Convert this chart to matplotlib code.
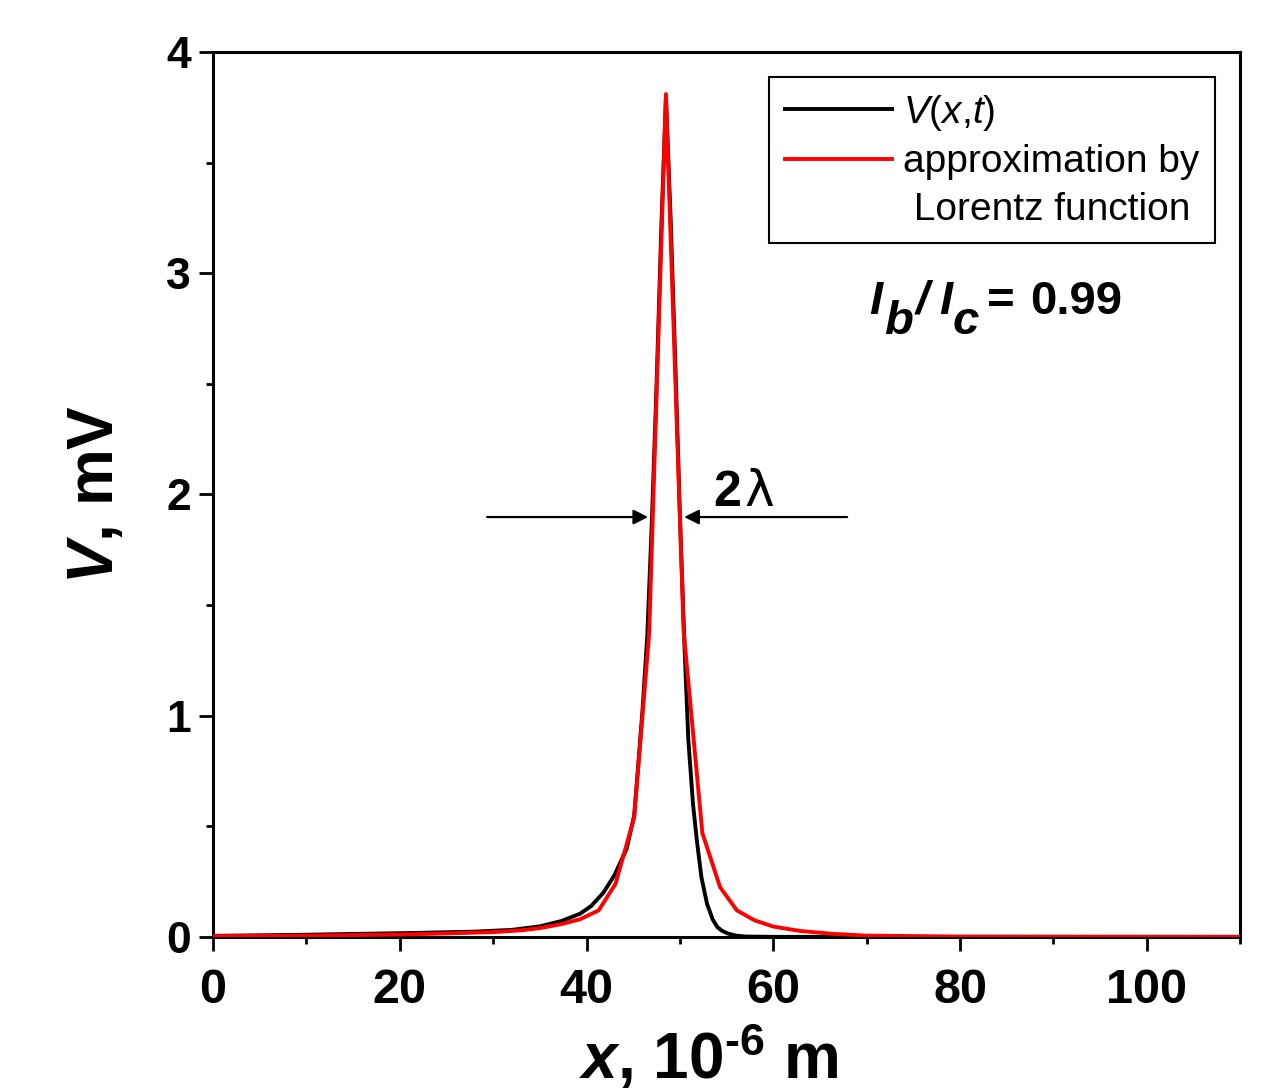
import matplotlib
matplotlib.use("Agg")
import matplotlib.pyplot as plt
from matplotlib.lines import Line2D

plt.rcParams['font.family'] = ['Liberation Sans', 'DejaVu Sans']
plt.rcParams['mathtext.fontset'] = 'custom'
plt.rcParams['mathtext.it'] = 'Liberation Sans:italic:bold'
plt.rcParams['mathtext.bf'] = 'Liberation Sans:bold'
plt.rcParams['mathtext.rm'] = 'Liberation Sans:bold'
plt.rcParams['mathtext.sf'] = 'Liberation Sans:italic'

W, H = 1272, 1090

# V(x,t) (x in 1e-6 m, V in mV)
x_v = [0, 10, 21.4, 28, 32, 35, 37.3, 39.3, 40.5, 41.8, 43.0, 44.3, 45.1, 45.5,
       46.0, 46.5, 47.0, 47.5, 48.0, 48.5, 49.0, 49.5, 50.0, 50.5, 50.9, 51.4,
       51.8, 52.3, 52.9, 53.5, 54.0, 54.5, 55.1, 56.0, 57.0, 60.0, 80.0, 110.0]
v_v = [0.005, 0.010, 0.018, 0.024, 0.032, 0.048, 0.072, 0.105, 0.14, 0.20, 0.28, 0.40, 0.55, 0.76,
       1.03, 1.36, 1.885, 2.50, 3.20, 3.79, 3.25, 2.60, 1.90, 1.30, 0.89, 0.60,
       0.44, 0.27, 0.15, 0.08, 0.045, 0.028, 0.016, 0.006, 0.002, 0.0005, 0.0, 0.0]

# Lorentz approximation
x_l = [0, 10, 20, 25, 30, 33, 35, 37.3, 39.3, 41.3, 43.1, 45.1, 46.7, 48.5,
       50.4, 52.4, 54.3, 56.1, 58.0, 60.0, 62.9, 66.4, 70.0, 80.0, 110.0]
v_l = [0.004, 0.006, 0.011, 0.016, 0.022, 0.030, 0.040, 0.058, 0.080, 0.12, 0.24, 0.54, 1.37, 3.81,
       1.38, 0.47, 0.225, 0.12, 0.075, 0.047, 0.027, 0.014, 0.006, 0.002, 0.001]

fig = plt.figure(figsize=(W / 100, H / 100), dpi=100)
ax = fig.add_axes([0.1675, 0.1404, 0.8075, 0.8119])

ax.plot(x_v, v_v, color='k', lw=2.8, zorder=3)
ax.plot(x_l, v_l, color='#ff0000', lw=2.8, zorder=4)

ax.set_xlim(0, 110)
ax.set_ylim(0, 4)
ax.set_xticks([0, 20, 40, 60, 80, 100])
ax.set_xticks([10, 30, 50, 70, 90, 110], minor=True)
ax.set_yticks([0, 1, 2, 3, 4])
ax.set_yticks([0.5, 1.5, 2.5, 3.5], minor=True)
ax.tick_params(which='major', direction='out', length=10, width=2, labelsize=32, pad=6)
ax.tick_params(axis='x', which='major', labelsize=35, pad=12)
ax.tick_params(which='minor', direction='out', length=5, width=2)
for lab in ax.get_xticklabels() + ax.get_yticklabels():
    lab.set_fontweight('bold')
for sp in ax.spines.values():
    sp.set_linewidth(2.2)

ax.set_ylabel(r'$V$, mV', fontsize=46, fontweight='bold')
ax.yaxis.set_label_coords(-0.085, 0.5)
ax.set_xlabel('$x$, 10$^{\u20106}$ m', fontsize=46, fontweight='bold', va='baseline')
ax.xaxis.set_label_coords(0.483, -0.16)

handles = [Line2D([], [], color='k', lw=2.8),
           Line2D([], [], color='#ff0000', lw=2.8),
           Line2D([], [], color='none')]
labels = [r'$\mathsf{V}$($\mathsf{x}$,$\mathsf{t}$)', 'approximation by', ' Lorentz function']
leg = ax.legend(handles, labels, loc='upper right', bbox_to_anchor=(0.9757, 0.9718),
                borderaxespad=0, fontsize=28, frameon=True, fancybox=False, framealpha=1,
                edgecolor='k', handlelength=2.75, handletextpad=0.3, borderpad=0.4,
                labelspacing=0.3)
leg.get_frame().set_linewidth(1.5)


def fx(px):
    return px / W


def fy(py):
    return 1 - py / H


# I_b / I_c = 0.99 (subscripts nearly full size and dropped, as in the original)
kw = dict(fontsize=34, fontweight='bold', va='baseline', ha='left')
fig.text(fx(869), fy(314), 'I', style='italic', **kw)
fig.text(fx(884), fy(334), 'b', style='italic', **kw)
fig.text(fx(916), fy(314), '/', style='italic', **kw)
fig.text(fx(939), fy(314), 'I', style='italic', **kw)
fig.text(fx(953), fy(334), 'c', style='italic', **kw)
fig.text(fx(987), fy(314), '=', **kw)
fig.text(fx(1030), fy(314), '0.99', **kw)

# 2 lambda width marker
arrow = dict(arrowstyle='-|>', color='k', lw=1.6, mutation_scale=22, shrinkA=0, shrinkB=0)
ax.annotate('', xy=(46.6, 1.898), xytext=(29.35, 1.898), arrowprops=arrow)
ax.annotate('', xy=(50.45, 1.898), xytext=(67.9, 1.898), arrowprops=arrow)
fig.text(fx(713), fy(506), '2', fontsize=36, fontweight='bold', va='baseline', ha='left')
fig.text(fx(744), fy(506), '\u03bb', fontsize=36, va='baseline', ha='left', family='DejaVu Sans')

fig.savefig('out.png', dpi=100)
